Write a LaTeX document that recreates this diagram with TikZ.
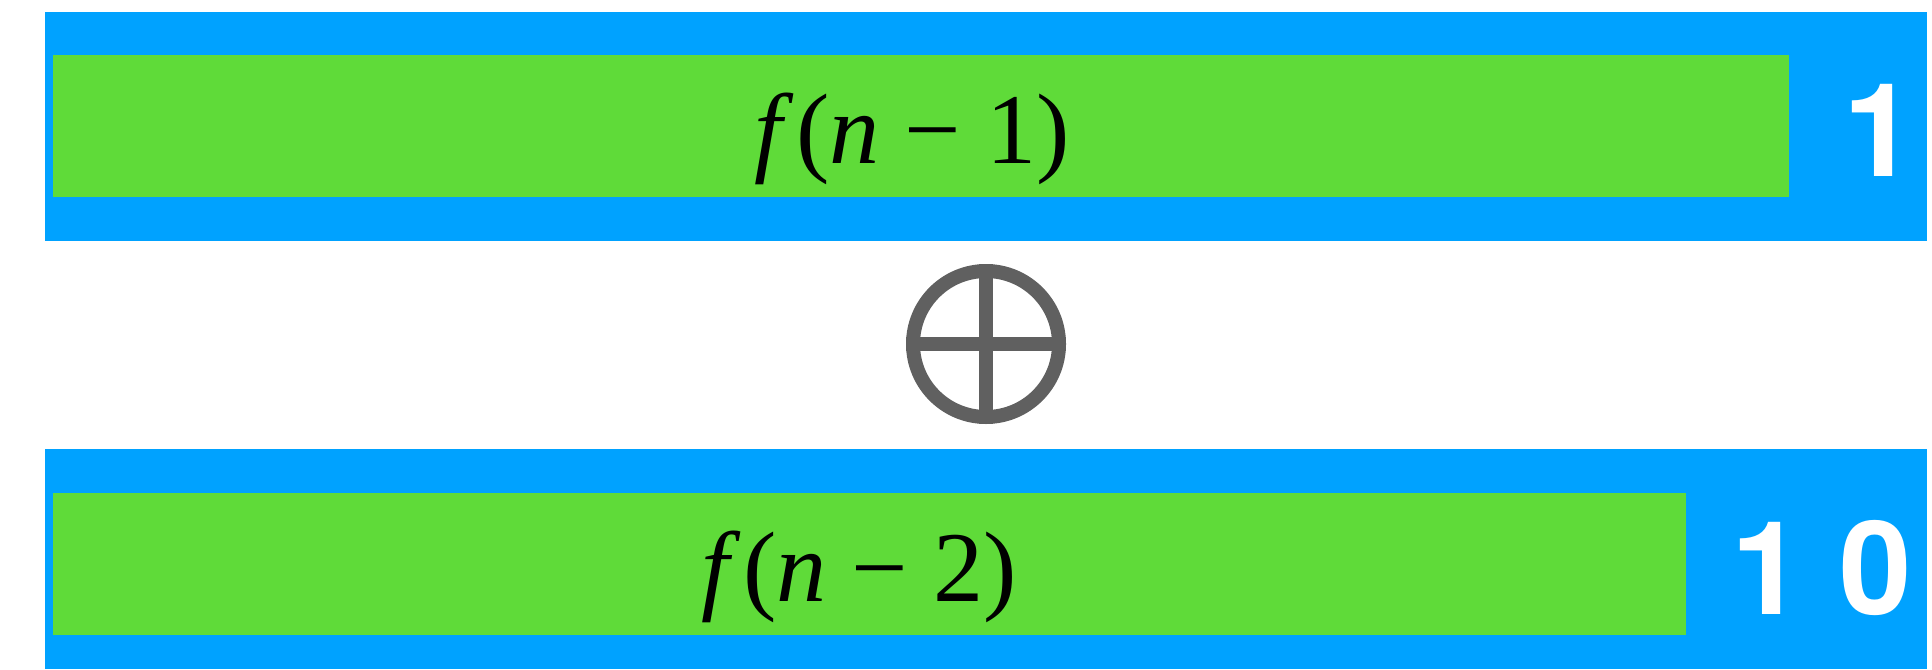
\documentclass[tikz,border=0pt]{standalone}
\usepackage{fontspec}
\newfontfamily\digitfont{TeX Gyre Heros}
\newfontfamily\formulafont{Liberation Serif}
\definecolor{barblue}{RGB}{0,162,255}
\definecolor{fillgreen}{RGB}{95,219,57}
\definecolor{opgray}{RGB}{96,96,96}

\begin{document}
\begin{tikzpicture}[
    bar/.style={rectangle,fill=barblue,inner sep=0pt,minimum height=2.2cm},
    fillbar/.style={rectangle,fill=fillgreen,inner sep=0pt,minimum height=1.42cm},
    formula/.style={anchor=base,inner sep=0pt,font=\formulafont\fontsize{28.5}{34}\selectfont},
    bits/.style={anchor=base,inner sep=0pt,text=white,font=\digitfont\bfseries\fontsize{37}{44}\selectfont},
    opcircle/.style={circle,draw=opgray,line width=0.14cm,inner sep=0pt,minimum size=1.46cm}]
  \useasboundingbox (0,0) rectangle (19.32,6.69);
  % the two bars
  \node[bar,minimum width=18.82cm,minimum height=2.29cm] (bar1) at (9.86,5.425) {};
  \node[bar,minimum width=18.82cm] (bar2) at (9.86,1.10) {};
  \node[fillbar,minimum width=17.36cm] (fill1) at (9.21,5.43) {};
  \node[fillbar,minimum width=16.33cm] (fill2) at (8.695,1.05) {};
  % labels
  \node[formula] (lab1) at (9.12,5.06) {\textit{f}\kern0.03em(\textit{n} − 1)};
  \node[formula] (lab2) at (8.59,0.68) {\textit{f}\kern0.03em(\textit{n} − 2)};
  \node[bits] (code1) at (18.80,4.93) {1};
  \node[bits] (code2) at (18.215,0.55) {1 0};
  % xor sign
  \node[opcircle] (xor) at (9.86,3.25) {};
  \draw[opgray,line width=0.14cm] (xor.north) -- (xor.south);
  \draw[opgray,line width=0.14cm] (xor.west) -- (xor.east);
\end{tikzpicture}
\end{document}
